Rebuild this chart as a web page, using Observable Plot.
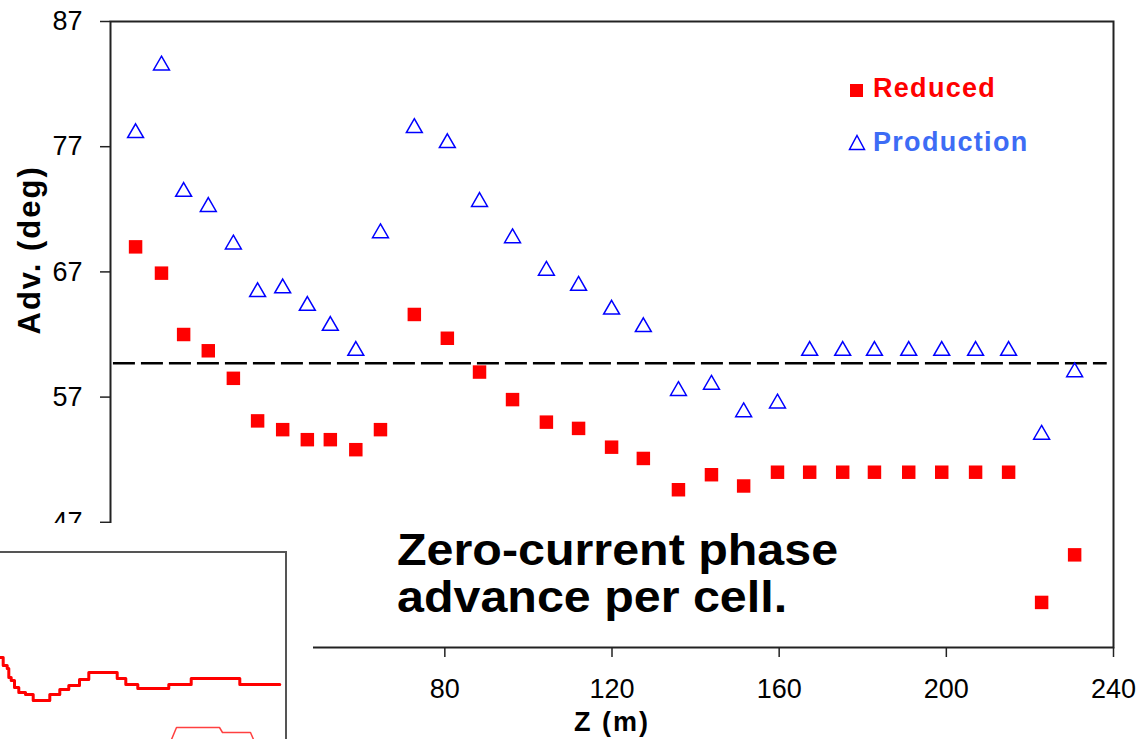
<!DOCTYPE html>
<html>
<head>
<meta charset="utf-8">
<script src="https://cdn.jsdelivr.net/npm/d3@7"></script>
<script src="https://cdn.jsdelivr.net/npm/@observablehq/plot@0.6"></script>
<style>
  html, body { margin: 0; padding: 0; background: #fff; }
  #page { position: relative; width: 1140px; height: 739px; overflow: hidden; background: #fff; font-family: "Liberation Sans", Arial, sans-serif; }
  #main { position: absolute; left: 0; top: 0; }
  #cover { position: absolute; left: 0; top: 523px; width: 313px; height: 216px; background: #fff; }
  #inset { position: absolute; left: 0; top: 551px; width: 285px; height: 200px; border-top: 2px solid #555; border-right: 2px solid #555; background: #fff; }
  #note { position: absolute; left: 397px; top: 526px; font-weight: bold; font-size: 44px; line-height: 47px; color: #000; transform: scaleX(1.1); transform-origin: left top; white-space: nowrap; }
  .leg { position: absolute; left: 873px; font-weight: bold; font-size: 27px; line-height: 27px; letter-spacing: 1.3px; white-space: nowrap; }
</style>
</head>
<body>
<div id="page">
  <div id="main"></div>
  <div id="cover"></div>
  <div id="inset"></div>
  <div id="note">Zero-current phase<br>advance per cell.</div>
  <div style="position:absolute;left:850px;top:84px;width:13px;height:13px;background:#ff0000;"></div>
  <div class="leg" style="top:75px;color:#ff0000;">Reduced</div>
  <svg style="position:absolute;left:848px;top:134px;" width="18" height="17"><polygon points="9,1.5 16.5,15.5 1.5,15.5" fill="none" stroke="#0000ff" stroke-width="1.5"/></svg>
  <div class="leg" style="top:129px;color:#3d6cf5;">Production</div>
</div>
<script>
// ---- data ----
const zPos = [6.0,12.2,17.5,23.4,29.4,35.2,41.2,47.1,52.6,58.7,64.6,72.7,80.6,88.3,96.2,104.3,112.0,119.9,127.5,135.9,143.8,151.5,159.6,167.3,175.2,182.8,191.0,198.9,207.0,214.9,222.8,230.7];
const reduced = [69.0,66.9,62.0,60.7,58.5,55.1,54.4,53.6,53.6,52.8,54.4,63.6,61.7,59.0,56.8,55.0,54.5,53.0,52.1,49.6,50.8,49.9,51.0,51.0,51.0,51.0,51.0,51.0,51.0,51.0,40.6,44.4];
const production = [78.1,83.5,73.4,72.2,69.2,65.4,65.7,64.3,62.7,60.7,70.1,78.5,77.3,72.6,69.7,67.1,65.9,64.0,62.6,57.5,58.0,55.8,56.5,60.7,60.7,60.7,60.7,60.7,60.7,60.7,54.0,59.0];
const referenceLevel = 59.7;
const xTicks = [0,40,80,120,160,200,240];
const yTicks = [37,47,57,67,77,87];
const xLabel = "Z (m)";
const yLabel = "Adv. (deg)";

// inset (partially visible second graph), arbitrary units
const insetX = [0,2.7,6.7,8.3,10.7,14,18.3,25,32.7,49.3,59.3,68.3,79,88.3,116.7,125.3,137.3,168.3,190.7,239.3,279.3];
const insetThick = [82,74,71,62,59,52,47,45,39,45,50,54,60,67,61,55,51,55,61,55,55];
const insetThinX = [171,176,219,222,250,253];
const insetThin = [0,12,12,7,7,0];

const rows = zPos.map((z, i) => ({z, reduced: reduced[i], production: production[i]}));

const font = '"Liberation Sans", Arial, sans-serif';
const main = Plot.plot({
  width: 1140, height: 739,
  marginLeft: 110, marginRight: 27, marginTop: 21, marginBottom: 92,
  style: {fontFamily: font, fontSize: "27px", color: "#000", background: "transparent", overflow: "visible"},
  x: {domain: [0, 240]},
  y: {domain: [37, 87]},
  marks: [
    Plot.axisX({ticks: xTicks, tickSize: 10, tickPadding: 21, label: null, fontSize: 27, stroke: "#222", strokeWidth: 1.5}),
    Plot.axisY({ticks: yTicks, tickSize: 10, tickPadding: 18, label: null, fontSize: 27, stroke: "#222", strokeWidth: 1.5}),
    Plot.frame({stroke: "#222", strokeWidth: 2}),
    Plot.ruleY([referenceLevel], {x1: 0.7, x2: 238.5, stroke: "#000", strokeWidth: 2.5, strokeDasharray: "22,6"}),
    Plot.dot(rows, {x: "z", y: "production", symbol: "triangle", r: 5.9, stroke: "#0000ff", strokeWidth: 1.5, fill: "none"}),
    Plot.dot(rows, {x: "z", y: "reduced", symbol: "square", r: 7.6, fill: "#ff0000", stroke: "none"}),
    Plot.text([xLabel], {frameAnchor: "bottom", dy: 75, fontSize: 27, fontWeight: "bold", lineAnchor: "middle"}),
    Plot.text([yLabel], {frameAnchor: "left", dx: -80, rotate: -90, fontSize: 31, fontWeight: "bold", lineAnchor: "middle"})
  ]
});
document.getElementById("main").appendChild(main);
const sel = d3.select(main);
sel.selectAll('g[aria-label="x-axis tick label"], g[aria-label="y-axis tick label"]').attr("font-size", 27).style("font-size", "27px");
sel.selectAll("text").filter(function() { return this.textContent === xLabel; }).style("letter-spacing", "2px");
sel.selectAll("text").filter(function() { return this.textContent === yLabel; }).style("letter-spacing", "2px");

const inset = Plot.plot({
  width: 285, height: 186, margin: 0,
  style: {background: "transparent", overflow: "visible"},
  x: {domain: [0, 285], axis: null},
  y: {domain: [0, 186], axis: null},
  marks: [
    Plot.line(insetX.map((x, i) => ({x, v: insetThick[i]})), {x: "x", y: "v", curve: "step-after", stroke: "#ff0000", strokeWidth: 3}),
    Plot.line(insetThinX.map((x, i) => ({x, v: insetThin[i]})), {x: "x", y: "v", stroke: "#ff4040", strokeWidth: 1.5})
  ]
});
document.getElementById("inset").appendChild(inset);
</script>
</body>
</html>
